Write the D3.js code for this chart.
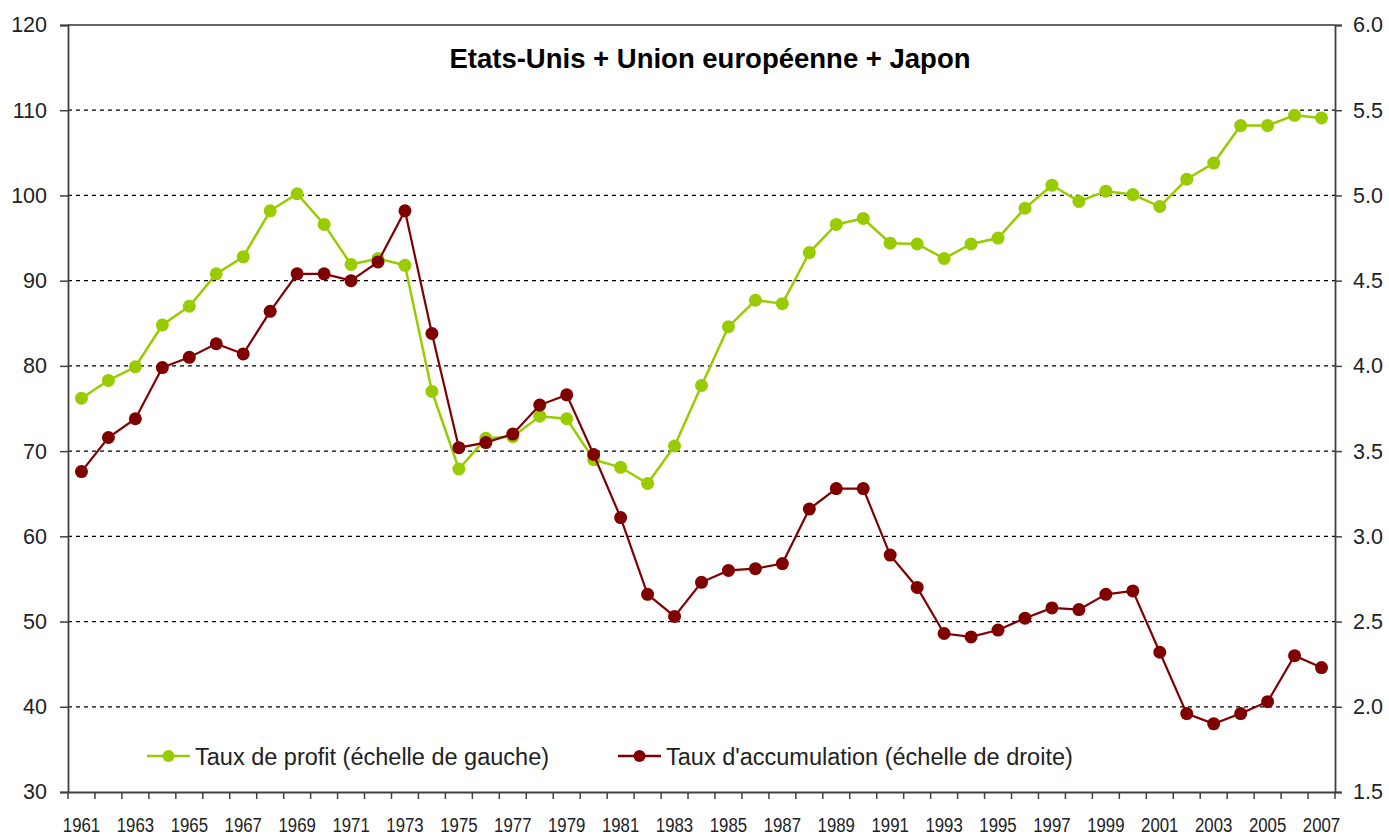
<!DOCTYPE html>
<html><head><meta charset="utf-8">
<script src="https://cdn.jsdelivr.net/npm/d3@7"></script>
<style>
body{margin:0;background:#fff;}
svg text{font-family:"Liberation Sans",Arial,sans-serif;}
</style></head>
<body><svg id="c" width="1389" height="836"></svg>
<script>
const years = d3.range(1961, 2008);
const profit = [76.2,78.3,79.9,84.8,87.0,90.8,92.8,98.2,100.2,96.6,91.9,92.6,91.8,77.0,67.9,71.5,71.7,74.1,73.8,69.0,68.1,66.2,70.6,77.7,84.6,87.7,87.3,93.3,96.6,97.3,94.4,94.3,92.6,94.3,95.0,98.5,101.2,99.3,100.5,100.1,98.7,101.9,103.8,108.2,108.2,109.4,109.1];
const accumulation = [3.38,3.58,3.69,3.99,4.05,4.13,4.07,4.32,4.54,4.54,4.50,4.61,4.91,4.19,3.52,3.55,3.60,3.77,3.83,3.48,3.11,2.66,2.53,2.73,2.80,2.81,2.84,3.16,3.28,3.28,2.89,2.70,2.43,2.41,2.45,2.52,2.58,2.57,2.66,2.68,2.32,1.96,1.90,1.96,2.03,2.30,2.23];
const leftTicks = [30,40,50,60,70,80,90,100,110,120];
const rightTicks = [1.5,2.0,2.5,3.0,3.5,4.0,4.5,5.0,5.5,6.0];
const title = "Etats-Unis + Union européenne + Japon";
const seriesNames = ["Taux de profit (échelle de gauche)", "Taux d'accumulation (échelle de droite)"];
const colors = ["#99CC00", "#800000"];

const svg = d3.select("#c");
const L = 68, R = 1335, T = 25, B = 792;
const x = d3.scaleBand().domain(years).range([L, R]).padding(0);
const yL = d3.scaleLinear().domain([30, 120]).range([B, T]);
const yR = d3.scaleLinear().domain([1.5, 6.0]).range([B, T]);

// gridlines
svg.append("g").selectAll("line").data(leftTicks.filter(d => d > 30 && d < 120)).join("line")
  .attr("x1", L).attr("x2", R).attr("y1", d => yL(d)).attr("y2", d => yL(d))
  .attr("stroke", "#000").attr("stroke-width", 1.2).attr("stroke-dasharray", "4,4");
// top border
svg.append("line").attr("x1", L).attr("x2", R).attr("y1", yL(120)).attr("y2", yL(120))
  .attr("stroke", "#333").attr("stroke-width", 1.5);

// left axis
const gL = svg.append("g").attr("transform", `translate(${L},0)`)
  .call(d3.axisLeft(yL).tickValues(leftTicks).tickSize(8).tickPadding(13).tickFormat(d3.format("d")));
// right axis
const gR = svg.append("g").attr("transform", `translate(${R},0)`)
  .call(d3.axisRight(yR).tickValues(rightTicks).tickSize(7).tickPadding(11).tickFormat(d3.format(".1f")));
[gL, gR].forEach(g => {
  g.select(".domain").attr("stroke", "#404040").attr("stroke-width", 1.8);
  g.selectAll(".tick line").attr("stroke", "#404040").attr("stroke-width", 1.5);
  g.selectAll(".tick text").attr("font-size", 21.5).attr("fill", "#222").attr("font-family", "Liberation Sans, Arial, sans-serif");
});

// bottom axis
const gB = svg.append("g").attr("transform", `translate(0,${B})`)
  .call(d3.axisBottom(x).tickSize(0).tickPadding(25).tickFormat(d => d % 2 === 1 ? d : ""));
gB.select(".domain").attr("stroke", "#404040").attr("stroke-width", 1.8);
gB.selectAll(".tick text").attr("font-size", 21).attr("fill", "#222")
  .attr("font-family", "Liberation Sans, Arial, sans-serif").attr("transform", "scale(0.8,1)");
const edges = years.map(d => x(d)).concat([x(years[years.length - 1]) + x.bandwidth()]);
gB.append("g").selectAll("line").data(edges).join("line")
  .attr("x1", d => d).attr("x2", d => d).attr("y1", 0).attr("y2", 7)
  .attr("stroke", "#404040").attr("stroke-width", 1.5);

// series
const cx = d => x(d) + x.bandwidth() / 2;
const series = [
  {vals: profit, y: yL, color: colors[0], w: 2.5},
  {vals: accumulation, y: yR, color: colors[1], w: 2.2}
];
series.forEach(s => {
  const line = d3.line().x((d, i) => cx(years[i])).y(d => s.y(d));
  svg.append("path").datum(s.vals).attr("d", line).attr("fill", "none")
    .attr("stroke", s.color).attr("stroke-width", s.w);
  svg.append("g").selectAll("circle").data(s.vals).join("circle")
    .attr("cx", (d, i) => cx(years[i])).attr("cy", d => s.y(d)).attr("r", 6.5)
    .attr("fill", s.color);
});

// title
svg.append("text").attr("x", 710).attr("y", 68).attr("text-anchor", "middle")
  .attr("font-size", 27.5).attr("font-weight", "bold").attr("fill", "#000").text(title);

// legend
const legendX = [147, 618];
seriesNames.forEach((n, i) => {
  const g = svg.append("g").attr("transform", `translate(${legendX[i]},756)`);
  g.append("line").attr("x1", 0).attr("x2", 43).attr("y1", 0).attr("y2", 0)
    .attr("stroke", colors[i]).attr("stroke-width", 2.5);
  g.append("circle").attr("cx", 21.5).attr("cy", 0).attr("r", 6).attr("fill", colors[i]);
  g.append("text").attr("x", 48).attr("y", 8.5).attr("font-size", 23.5).attr("fill", "#222").text(n);
});
</script></body></html>
